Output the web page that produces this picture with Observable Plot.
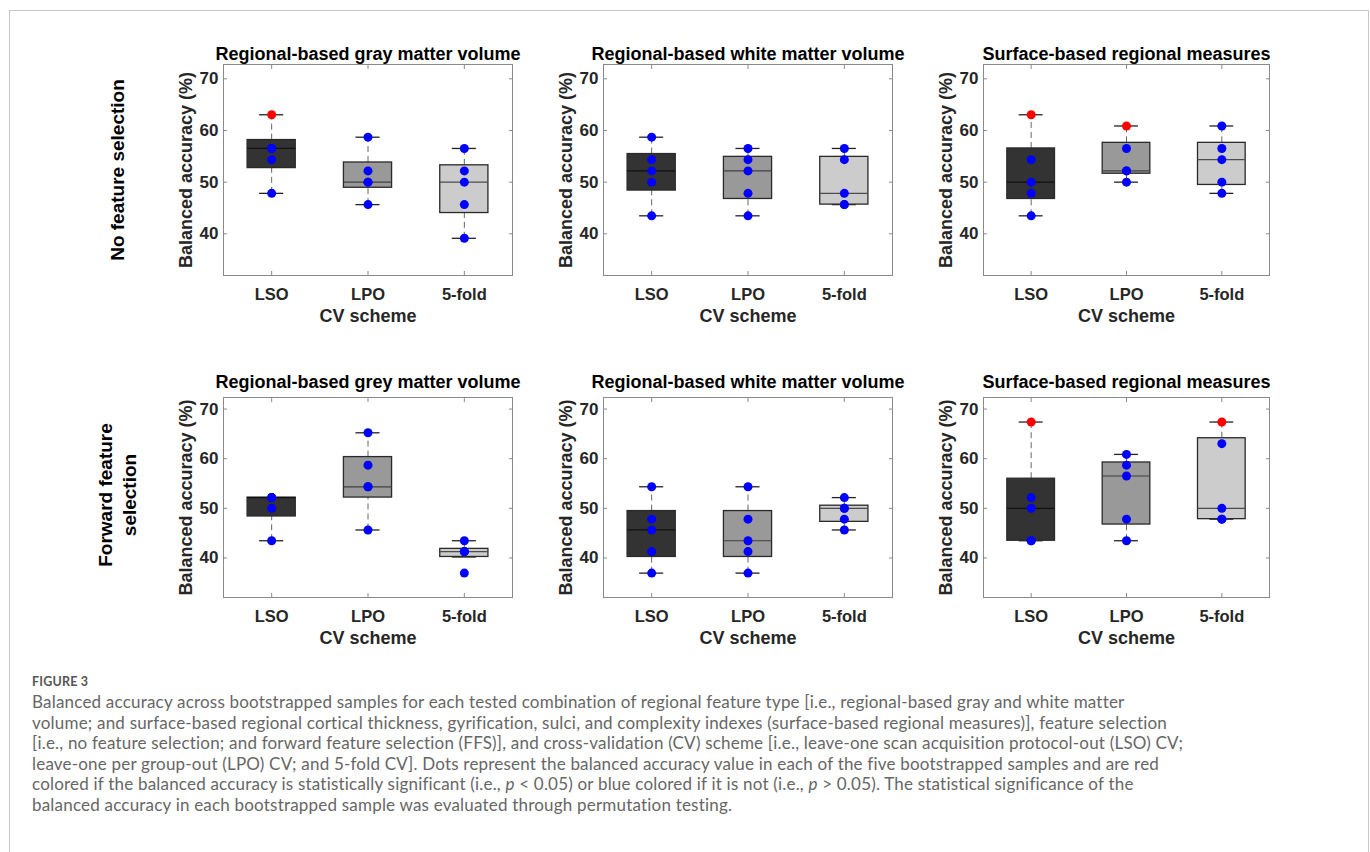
<!DOCTYPE html>
<html>
<head>
<meta charset="utf-8">
<script src="https://cdn.jsdelivr.net/npm/d3@7"></script>
<script src="https://cdn.jsdelivr.net/npm/@observablehq/plot@0.6"></script>
<style>
  body { margin: 0; background: #fff; }
  #page { position: relative; width: 1370px; height: 852px; overflow: hidden; font-family: "Liberation Sans", Arial, sans-serif; }
  #frame { position: absolute; left: 9px; top: 10px; width: 1360px; height: 900px; border: 1px solid #c8c8c8; box-sizing: border-box; }
  .panel { position: absolute; }
  .panel svg { overflow: visible; }
  .rowlabel { position: absolute; width: 300px; text-align: center; font-weight: bold; font-size: 19px; line-height: 24px; color: #000; transform: rotate(-90deg); }
  #figlabel { position: absolute; left: 32px; top: 676px; font-family: Lato, "Open Sans", sans-serif; font-size: 12.5px; line-height: 12px; font-weight: 700; color: #555; letter-spacing: 0.2px; }
  #caption { position: absolute; left: 32px; top: 692px; font-family: Lato, "Open Sans", sans-serif; font-size: 17px; line-height: 20.6px; color: #666; white-space: nowrap; letter-spacing: 0.2px; }
</style>
</head>
<body>
<div id="page">
  <div id="frame"></div>
  <div id="figlabel">FIGURE 3</div>
  <div id="caption">
    Balanced accuracy across bootstrapped samples for each tested combination of regional feature type [i.e., regional-based gray and white matter<br>
    volume; and surface-based regional cortical thickness, gyrification, sulci, and complexity indexes (surface-based regional measures)], feature selection<br>
    [i.e., no feature selection; and forward feature selection (FFS)], and cross-validation (CV) scheme [i.e., leave-one scan acquisition protocol-out (LSO) CV;<br>
    leave-one per group-out (LPO) CV; and 5-fold CV]. Dots represent the balanced accuracy value in each of the five bootstrapped samples and are red<br>
    colored if the balanced accuracy is statistically significant (i.e., <i>p</i> &lt; 0.05) or blue colored if it is not (i.e., <i>p</i> &gt; 0.05). The statistical significance of the<br>
    balanced accuracy in each bootstrapped sample was evaluated through permutation testing.
  </div>
</div>
<script>
// ---------- data ----------
const schemes = ["LSO", "LPO", "5-fold"];
const rowLabels = ["No feature selection", "Forward feature\nselection"];
const panelTitles = [
  ["Regional-based gray matter volume", "Regional-based white matter volume", "Surface-based regional measures"],
  ["Regional-based grey matter volume", "Regional-based white matter volume", "Surface-based regional measures"]
];
const yTicks = [40, 50, 60, 70];
const yLabel = "Balanced accuracy (%)";
const xLabel = "CV scheme";

// balanced accuracy (%) of the five bootstrapped samples, per CV scheme [LSO, LPO, 5-fold]
const nfsGray    = [[47.83, 54.35, 56.52, 56.52, 63.04], [45.65, 50.00, 50.00, 52.17, 58.70], [39.13, 45.65, 50.00, 52.17, 56.52]];
const nfsGraySig = [[0, 0, 0, 0, 1], [0, 0, 0, 0, 0], [0, 0, 0, 0, 0]];
const nfsWhite    = [[43.48, 50.00, 52.17, 54.35, 58.70], [43.48, 47.83, 52.17, 54.35, 56.52], [45.65, 45.65, 47.83, 54.35, 56.52]];
const nfsWhiteSig = [[0, 0, 0, 0, 0], [0, 0, 0, 0, 0], [0, 0, 0, 0, 0]];
const nfsSurf    = [[43.48, 47.83, 50.00, 54.35, 63.04], [50.00, 52.17, 52.17, 56.52, 60.87], [47.83, 50.00, 54.35, 56.52, 60.87]];
const nfsSurfSig = [[0, 0, 0, 0, 1], [0, 0, 0, 0, 1], [0, 0, 0, 0, 0]];
const ffsGray    = [[43.48, 50.00, 52.17, 52.17, 52.17], [45.65, 54.35, 54.35, 58.70, 65.22], [36.96, 41.30, 41.30, 41.30, 43.48]];
const ffsGraySig = [[0, 0, 0, 0, 0], [0, 0, 0, 0, 0], [0, 0, 0, 0, 0]];
const ffsWhite    = [[36.96, 41.30, 45.65, 47.83, 54.35], [36.96, 41.30, 43.48, 47.83, 54.35], [45.65, 47.83, 50.00, 50.00, 52.17]];
const ffsWhiteSig = [[0, 0, 0, 0, 0], [0, 0, 0, 0, 0], [0, 0, 0, 0, 0]];
const ffsSurf    = [[43.48, 43.48, 50.00, 52.17, 67.39], [43.48, 47.83, 56.52, 58.70, 60.87], [47.83, 47.83, 50.00, 63.04, 67.39]];
const ffsSurfSig = [[0, 0, 0, 0, 1], [0, 0, 0, 0, 0], [0, 0, 0, 0, 1]];

const panels = [
  [[nfsGray, nfsGraySig], [nfsWhite, nfsWhiteSig], [nfsSurf, nfsSurfSig]],
  [[ffsGray, ffsGraySig], [ffsWhite, ffsWhiteSig], [ffsSurf, ffsSurfSig]]
];

// ---------- style / layout ----------
const FONT = "'Liberation Sans', Arial, Helvetica, sans-serif";
const boxFill = ["#333333", "#999999", "#cccccc"];
const medianStroke = ["#111111", "#404040", "#4d4d4d"];
const frameColor = "#8a8a8a";
const colLeft = [223, 603, 983];
const colWidth = [289, 289, 286];
const rowTop = [64, 397];
const rowHeight = [211, 200];
const rowDomain = [[31.93, 72.77], [32.05, 72.33]];
const titleOffset = [10.7, 15];

// MATLAB-style box statistics
function prctile(s, p) {
  const n = s.length, pos = n * p / 100 + 0.5;
  if (pos <= 1) return s[0];
  if (pos >= n) return s[n - 1];
  const lo = Math.floor(pos), f = pos - lo;
  return s[lo - 1] + f * (s[lo] - s[lo - 1]);
}
function boxStats(v) {
  const s = [...v].sort((a, b) => a - b);
  const q1 = prctile(s, 25), q3 = prctile(s, 75), med = prctile(s, 50);
  const iqr = q3 - q1;
  const hiF = q3 + 1.5 * iqr, loF = q1 - 1.5 * iqr;
  const hi = Math.max(q3, d3.max(s.filter(x => x <= hiF)));
  const lo = Math.min(q1, d3.min(s.filter(x => x >= loF)));
  return {q1, q3, med, hi, lo};
}

const page = document.getElementById("page");

function makePanel(r, c) {
  const [values, sig] = panels[r][c];
  const mL = 70, mR = 15, mT = 40, mB = 60;
  const FL = colLeft[c], FW = colWidth[c], FT = rowTop[r], FH = rowHeight[r];
  const stats = values.map((v, i) => ({pos: i + 1, idx: i, ...boxStats(v)}));
  const pts = values.flatMap((v, i) => v.map((y, j) => ({x: i + 1, y, sig: sig[i][j]})));
  const bw = 0.25, cw = 0.125;
  const chart = Plot.plot({
    width: FW + mL + mR,
    height: FH + mT + mB,
    marginLeft: mL, marginRight: mR, marginTop: mT, marginBottom: mB,
    x: {domain: [0.5, 3.5]},
    y: {domain: rowDomain[r]},
    color: {type: "identity"},
    style: {fontFamily: FONT, background: "transparent", overflow: "visible"},
    marks: [
      Plot.ruleX(stats, {x: "pos", y1: "q3", y2: "hi", stroke: "#666", strokeWidth: 1, strokeDasharray: "6,4"}),
      Plot.ruleX(stats, {x: "pos", y1: "lo", y2: "q1", stroke: "#666", strokeWidth: 1, strokeDasharray: "6,4"}),
      Plot.ruleY(stats, {y: "hi", x1: d => d.pos - cw, x2: d => d.pos + cw, stroke: "#222", strokeWidth: 1.3}),
      Plot.ruleY(stats, {y: "lo", x1: d => d.pos - cw, x2: d => d.pos + cw, stroke: "#222", strokeWidth: 1.3}),
      Plot.rect(stats, {x1: d => d.pos - bw, x2: d => d.pos + bw, y1: "q1", y2: "q3", fill: d => boxFill[d.idx], stroke: "#2a2a2a", strokeWidth: 1.3}),
      Plot.ruleY(stats, {y: "med", x1: d => d.pos - bw, x2: d => d.pos + bw, stroke: d => medianStroke[d.idx], strokeWidth: 1.2}),
      Plot.dot(pts, {x: "x", y: "y", r: 4.5, fill: d => d.sig ? "#ff0000" : "#0000ff", stroke: null}),
      Plot.frame({stroke: frameColor, strokeWidth: 1}),
      Plot.axisY({anchor: "left", ticks: yTicks, tickSize: -4, tickPadding: 9, label: null,
        stroke: frameColor, fill: "#262626", fontSize: 17, fontWeight: "bold"}),
      Plot.axisY({anchor: "right", ticks: yTicks, tickSize: -4, tickFormat: () => "", label: null, stroke: frameColor}),
      Plot.axisX({anchor: "bottom", ticks: [1, 2, 3], tickFormat: i => schemes[i - 1], tickSize: -4, tickPadding: 17, label: null,
        stroke: frameColor, fill: "#262626", fontSize: 16.5, fontWeight: "bold"}),
      Plot.axisX({anchor: "top", ticks: [1, 2, 3], tickSize: -4, tickFormat: () => "", label: null, stroke: frameColor}),
      Plot.text([panelTitles[r][c]], {text: d => d, frameAnchor: "top", dy: -titleOffset[r], lineAnchor: "middle",
        textAnchor: "middle", fontSize: 18, fontWeight: "bold", fill: "#000"}),
      Plot.text([xLabel], {text: d => d, frameAnchor: "bottom", dy: 41, lineAnchor: "middle",
        textAnchor: "middle", fontSize: 18, fontWeight: "bold", fill: "#262626"}),
      Plot.text([yLabel], {text: d => d, frameAnchor: "left", dx: -37, rotate: -90, lineAnchor: "middle",
        textAnchor: "middle", fontSize: 18, fontWeight: "bold", fill: "#262626"})
    ]
  });
  const div = document.createElement("div");
  div.className = "panel";
  div.style.left = (FL - mL) + "px";
  div.style.top = (FT - mT) + "px";
  div.appendChild(chart);
  page.appendChild(div);
}

for (let r = 0; r < 2; r++) for (let c = 0; c < 3; c++) makePanel(r, c);

// row labels
const rowCenters = [170, 495];
rowLabels.forEach((lab, r) => {
  const lines = lab.split("\n");
  const div = document.createElement("div");
  div.className = "rowlabel";
  const h = lines.length * 24;
  div.style.height = h + "px";
  div.style.left = (118 - 150) + "px";
  div.style.top = (rowCenters[r] - h / 2) + "px";
  div.innerHTML = lines.join("<br>");
  page.appendChild(div);
});
</script>
</body>
</html>
